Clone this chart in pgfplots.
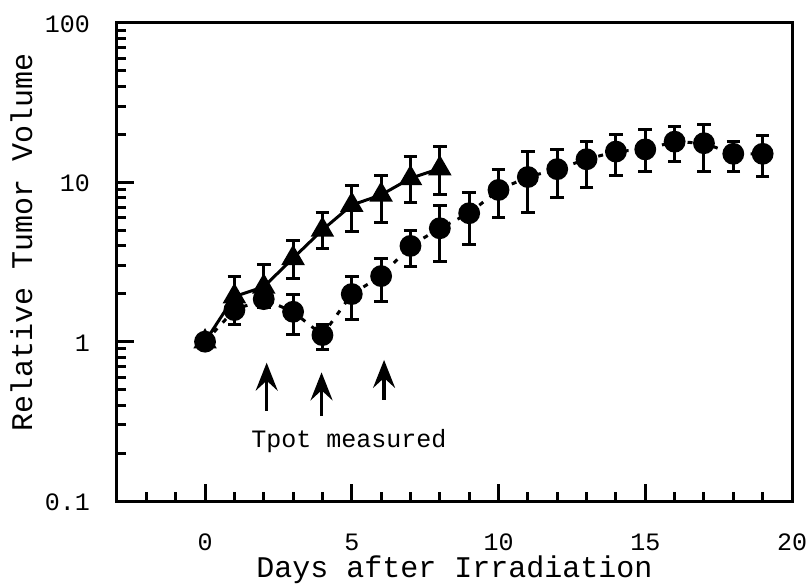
\documentclass[border=0pt]{standalone}
\usepackage{pgfplots}
\pgfplotsset{compat=1.18}
\usepackage{pgfplotstable}
\usepackage{fontspec}
\setmainfont{Liberation Mono}
\usetikzlibrary{arrows.meta}

% Relative tumour volume after irradiation (mean, upper/lower error)
\pgfplotstableread{
x  y     ep    em
0  1.00  0.00  0.00
1  1.58  0.37  0.29
2  1.85  0.35  0.22
3  1.54  0.45  0.43
4  1.10  0.19  0.21
5  1.99  0.57  0.61
6  2.58  0.76  0.80
7  3.99  0.99  1.03
8  5.15  1.99  1.97
9  6.40  2.21  2.30
10 8.96  3.01  2.98
11 10.8  4.80  4.35
12 12.1  4.00  4.08
13 13.96 4.04  4.65
14 15.6  4.40  4.50
15 16.1  5.40  4.40
16 18.0  4.40  4.50
17 17.6  5.60  5.90
18 15.1  2.90  3.40
19 15.1  4.50  4.20
}\irradiated

\pgfplotstableread{
x  y     ep    em
0  1.00  0.00  0.00
1  1.92  0.64  0.42
2  2.21  0.86  0.46
3  3.34  0.96  0.84
4  5.03  1.42  1.17
5  7.20  2.40  2.30
6  8.34  2.76  2.76
7  10.6  3.90  3.14
8  12.2  4.50  3.86
}\control

\begin{document}
\begin{tikzpicture}
\useasboundingbox (-58.5bp,-41.5bp) rectangle (347.5bp,250.5bp);
\begin{axis}[
  scale only axis,
  width=337.5bp, height=239bp,
  ymode=log,
  xmin=-3, xmax=20, ymin=0.1, ymax=100,
  axis line style={line width=1.5bp},
  every tick/.style={black, line width=1.5bp},
  tick align=inside,
  xtick pos=bottom, ytick pos=left,
  major tick length=8.5bp, minor tick length=4.5bp,
  xtick={0,5,10,15,20}, xticklabels={0,5,10,15,20},
  minor xtick={-2,-1,1,2,3,4,6,7,8,9,11,12,13,14,16,17,18,19},
  ytick={0.1,1,10,100}, yticklabels={0.1,1,10,100},
  minor ytick={0.2,0.3,0.4,0.5,0.6,0.7,0.8,0.9,2,3,4,5,6,7,8,9,20,30,40,50,60,70,80,90},
  /pgf/number format/assume math mode=true,
  xticklabel style={font=\fontsize{12.5bp}{15bp}\selectfont, anchor=base, inner sep=0pt, outer sep=0pt, yshift=-24.5bp},
  yticklabel style={font=\fontsize{12.5bp}{15bp}\selectfont, anchor=base east, inner sep=0pt, outer sep=0pt, xshift=-13.5bp, yshift=-4.75bp},
  xlabel={Days after Irradiation},
  ylabel={Relative Tumor Volume},
  every axis x label/.style={at={(axis description cs:0.5,-0.159)}, anchor=base, inner sep=0pt, font=\fontsize{15bp}{18bp}\selectfont},
  every axis y label/.style={at={(axis description cs:-0.1415,0.5408)}, anchor=center, rotate=90, font=\fontsize{15bp}{18bp}\selectfont},
  clip=false,
]
% irradiated group: filled circles, dotted connecting line
\addplot[black, line width=1.5bp, dash pattern=on 2.5bp off 4bp,
  mark=*, mark size=4.7bp, mark options={solid, fill=black},
  error bars/.cd, y dir=both, y explicit,
  error bar style={solid, line width=1.5bp},
  error mark options={solid, rotate=90, line width=1.5bp, mark size=3.4bp}]
  table[x=x, y=y, y error plus=ep, y error minus=em] {\irradiated};
% control group: filled triangles, solid line
\addplot[black, line width=1.5bp,
  mark=triangle*, mark size=5.3bp, mark options={solid, fill=black},
  error bars/.cd, y dir=both, y explicit,
  error bar style={solid, line width=1.5bp},
  error mark options={solid, rotate=90, line width=1.5bp, mark size=3.4bp}]
  table[x=x, y=y, y error plus=ep, y error minus=em] {\control};
% days on which Tpot was measured
\draw[line width=1.6bp, -{Stealth[length=14bp, width=11bp, inset=5bp]}] (axis cs:2.1,0.368) -- (axis cs:2.1,0.738);
\draw[line width=1.8bp, -{Stealth[length=14bp, width=11bp, inset=5bp]}] (axis cs:3.97,0.341) -- (axis cs:3.97,0.642);
\draw[line width=1.6bp, -{Stealth[length=14bp, width=11bp, inset=5bp]}] (axis cs:6.1,0.431) -- (axis cs:6.1,0.768);
\node[anchor=base, inner sep=0pt, font=\fontsize{12.5bp}{15bp}\selectfont] at (axis cs:4.9,0.218) {Tpot measured};
\end{axis}
\end{tikzpicture}
\end{document}
